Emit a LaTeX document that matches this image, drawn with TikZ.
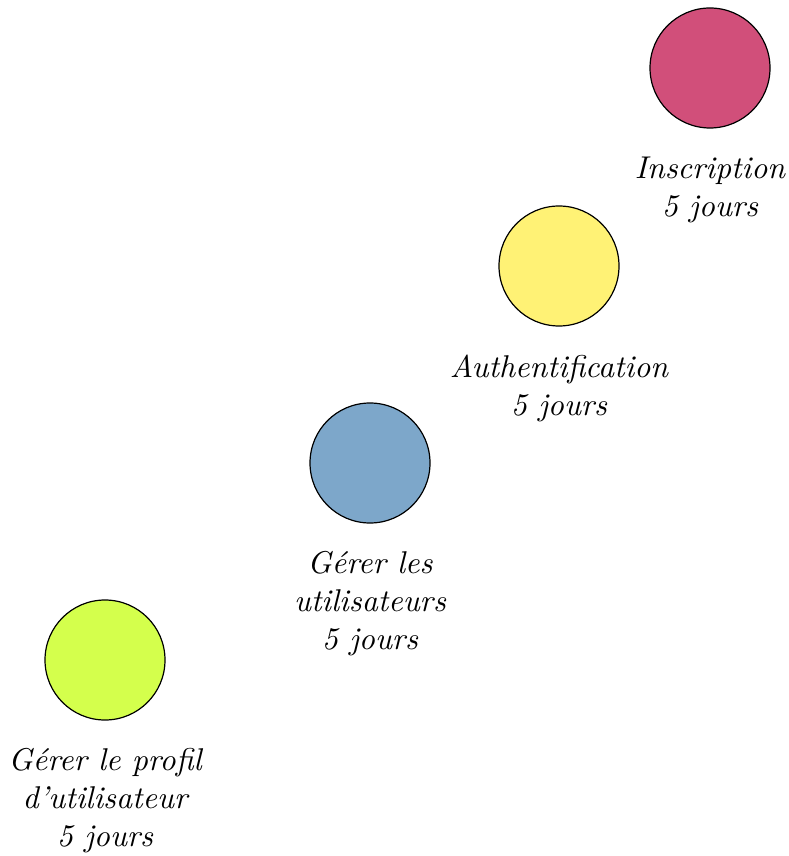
\documentclass[tikz,border=0pt]{standalone}
\usepackage{fontspec}
\begin{document}
\begin{tikzpicture}[x=0.33333pt,y=-0.33333pt,
  task/.style={circle,draw=black,line width=0.4pt,minimum size=40pt,inner sep=0pt},
  tasklabel/.style={anchor=north,align=center,font=\fontsize{10.5}{12.6}\selectfont\itshape,inner sep=0pt},
]
\definecolor{cPink}{RGB}{209,79,122}
\definecolor{cYellow}{RGB}{255,242,117}
\definecolor{cBlue}{RGB}{125,167,202}
\definecolor{cGreen}{RGB}{212,255,76}
\useasboundingbox (0,0) rectangle (788,856);

\node[task,fill=cPink]   (inscr) at (710,68)  {};
\node[task,fill=cYellow] (auth)  at (559,266) {};
\node[task,fill=cBlue]   (users) at (370,463) {};
\node[task,fill=cGreen]  (prof)  at (105,660) {};

\node[tasklabel] (linscr) at ([yshift=-27.5*0.33333pt]inscr.south) {Inscription\\5 jours};
\node[tasklabel] (lauth)  at ([yshift=-27.5*0.33333pt]auth.south)  {Authentification\\5 jours};
\node[tasklabel] (lusers) at ([yshift=-27.5*0.33333pt]users.south) {Gérer les\\utilisateurs\\5 jours};
\node[tasklabel] (lprof)  at ([yshift=-27.5*0.33333pt]prof.south)  {Gérer le profil\\d’utilisateur\\5 jours};
\end{tikzpicture}
\end{document}
